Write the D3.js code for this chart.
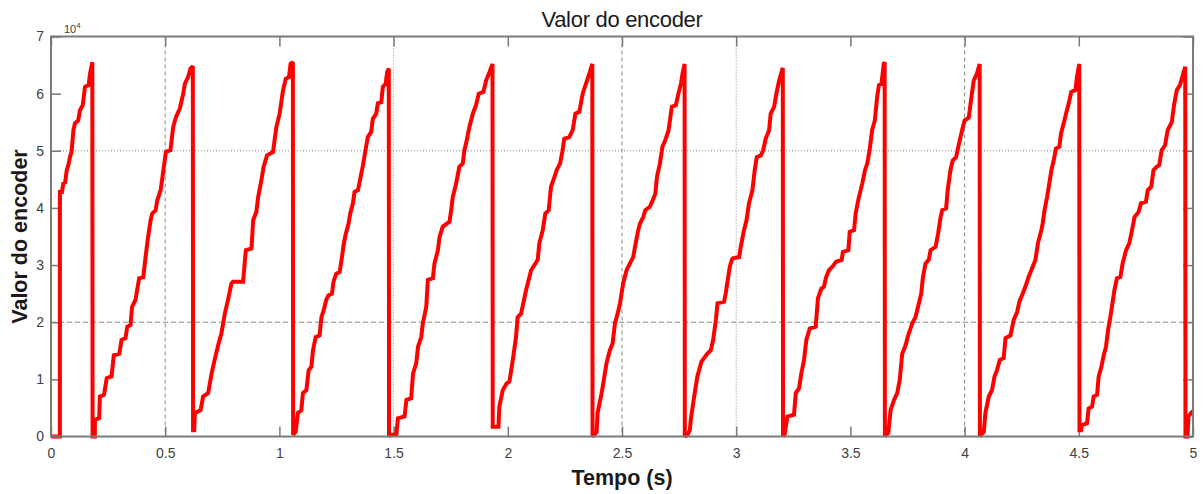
<!DOCTYPE html>
<html><head><meta charset="utf-8">
<script src="https://cdn.jsdelivr.net/npm/d3@7"></script>
<style>body{margin:0;background:#fff;} text{font-family:"Liberation Sans", Arial, sans-serif;}</style>
</head><body>
<svg id="chart" width="1203" height="494"></svg>
<script>
// ---- data (tempo in s, valor in encoder counts) ----
const tempo = [
 0,0.039,0.039,0.048,0.054,0.062,0.069,0.076,0.083,0.090,0.098,0.105,0.119,0.127,0.139,0.149,0.165,0.171,0.181,0.182,
 0.192,0.192,0.211,0.214,0.232,0.244,0.265,0.275,0.299,0.309,0.326,0.334,0.348,0.355,0.370,0.377,0.386,0.404,0.414,0.425,0.436,0.443,0.458,0.465,0.480,0.488,0.503,0.523,0.535,0.547,0.564,0.579,0.586,0.600,0.611,0.621,0.622,
 0.627,0.630,0.655,0.666,0.688,0.703,0.713,0.732,0.746,0.761,0.775,0.790,0.797,0.841,0.848,0.853,0.878,0.885,0.899,0.907,0.921,0.931,0.946,0.972,0.987,1.001,1.016,1.028,1.042,1.049,1.059,1.060,
 1.071,1.081,1.096,1.103,1.118,1.128,1.140,1.147,1.159,1.176,1.184,1.194,1.205,1.215,1.230,1.237,1.249,1.264,1.274,1.281,1.289,1.303,1.310,1.322,1.329,1.344,1.354,1.366,1.377,1.387,1.402,1.409,1.424,1.431,1.446,1.453,1.465,1.472,1.479,1.480,
 1.490,1.512,1.519,1.548,1.556,1.577,1.585,1.599,1.607,1.621,1.628,1.643,1.650,1.672,1.679,1.694,1.701,1.715,1.745,1.752,1.759,1.774,1.788,1.803,1.810,1.820,1.832,1.847,1.861,1.873,1.893,1.905,1.920,1.933,1.934,
 1.959,1.963,1.978,1.995,2.007,2.022,2.036,2.043,2.058,2.080,2.102,2.131,2.138,2.153,2.164,2.179,2.189,2.204,2.214,2.229,2.240,2.247,2.269,2.284,2.296,2.313,2.328,2.342,2.357,2.370,2.371,
 2.379,2.389,2.393,2.408,2.418,2.432,2.447,2.459,2.469,2.481,2.491,2.505,2.520,2.535,2.549,2.557,2.571,2.579,2.593,2.602,2.622,2.634,2.646,2.653,2.666,2.677,2.689,2.704,2.718,2.736,2.747,2.758,2.765,2.774,2.775,
 2.787,2.797,2.801,2.816,2.830,2.848,2.874,2.889,2.899,2.911,2.918,2.947,2.954,2.965,2.972,2.981,2.986,3.013,3.020,3.034,3.045,3.056,3.071,3.081,3.090,3.108,3.118,3.129,3.144,3.151,3.166,3.176,3.188,3.204,3.205,
 3.212,3.224,3.253,3.261,3.275,3.285,3.297,3.307,3.322,3.348,3.358,3.373,3.384,3.394,3.406,3.421,3.438,3.462,3.467,3.491,3.497,3.516,3.523,3.535,3.552,3.564,3.574,3.584,3.595,3.607,3.617,3.625,3.636,3.646,3.650,3.651,
 3.657,3.666,3.676,3.691,3.705,3.716,3.727,3.742,3.753,3.771,3.785,3.800,3.810,3.817,3.829,3.843,3.851,3.873,3.884,3.895,3.902,3.919,3.926,3.938,3.948,3.963,3.974,3.989,4.000,4.018,4.030,4.040,4.054,4.066,4.067,
 4.072,4.084,4.091,4.106,4.120,4.131,4.142,4.154,4.171,4.179,4.201,4.215,4.230,4.240,4.254,4.266,4.280,4.310,4.321,4.336,4.342,4.350,4.361,4.371,4.380,4.390,4.400,4.415,4.422,4.434,4.444,4.456,4.467,4.485,4.492,4.502,4.503,
 4.510,4.514,4.536,4.543,4.558,4.565,4.580,4.587,4.599,4.609,4.619,4.628,4.638,4.645,4.656,4.667,4.682,4.692,4.707,4.721,4.733,4.744,4.762,4.772,4.794,4.802,4.817,4.827,4.841,4.852,4.863,4.878,4.889,4.907,4.917,4.929,4.943,4.953,4.966,4.967,
 4.976,4.980,4.995,5.0
];
const valor = [
 0,0,42800,42800,44300,44500,46600,47500,48900,49800,53600,54800,55300,57100,58000,61200,61500,63500,65500,0,
 0,2900,3200,7000,7300,10200,10500,14200,14500,16900,17200,19200,19500,22700,23900,25600,27700,27900,31400,34900,37800,39000,39600,41300,43100,45400,49800,50100,54200,55900,57400,60000,61700,62900,64400,64800,1100,
 1100,4100,4600,7000,7600,11000,12800,16000,18000,21500,23900,26800,27100,27100,30300,32600,32900,37800,39300,41900,44800,47200,49200,49800,54200,56500,60600,62600,62900,65200,65500,300,
 800,4100,4600,7600,8100,11600,12200,15100,17400,17700,20900,22100,23900,24700,25000,27100,28500,28800,31400,33500,35200,37300,39000,40800,42800,43100,45100,47500,50100,52400,53300,55600,56500,58300,58500,61200,61700,63800,64400,0,
 300,300,3200,3500,6400,6700,11000,12800,15700,17400,19800,22700,27400,27700,30300,32600,34900,36700,37600,39600,41900,44300,47200,47800,50100,51800,54200,56500,58000,60000,60300,62300,63800,65200,1700,
 1700,5200,8100,9300,9600,13400,17400,20900,21500,25600,29100,30900,33800,36100,39000,39600,43700,45400,46600,47800,50100,52100,52400,53600,56500,56800,60000,61700,63500,65200,0,
 300,800,4100,7000,9300,12800,15100,16300,19800,21500,23300,26800,29100,30300,31400,33200,36100,37300,38400,39600,40200,41300,42500,45400,47800,50700,51800,53600,57700,58000,60000,61700,63500,65200,0,
 300,1100,2900,7000,10500,13100,14500,15100,16900,20400,23300,23600,25000,27900,29700,30900,31200,31400,33200,36100,37800,40800,43100,46600,48900,49200,50100,52100,53600,56500,57700,60000,62300,64500,0,
 300,3500,3800,7600,8400,11000,13400,16900,18900,19200,24200,25900,26200,27900,29100,29700,30600,30900,32300,32600,35800,36100,39000,41500,44300,46600,47800,50100,53600,55300,59400,61500,61700,65200,65500,0,
 300,600,4600,6400,7600,9900,14500,16000,17700,19800,20900,23300,25000,27700,30300,30900,32600,33200,35500,38400,39600,39900,43100,46600,48300,48900,51000,53600,55300,55800,59400,62300,63500,65200,0,
 300,800,4100,7000,8100,10500,11600,13400,13700,17200,17700,20400,21800,23600,25000,26200,27900,30900,33800,36100,37300,39600,41900,44300,46600,48300,50400,50700,53000,54800,56500,58300,60300,60600,62900,65200,1100,
 1100,2000,2300,4900,5200,7000,7300,10500,12200,14200,15700,18600,20900,22700,25600,27700,27900,30300,32600,33800,36100,38400,39300,40800,41100,43100,43700,46600,47200,47500,50100,51000,53600,55000,58000,60600,61500,62900,64700,0,
 0,3500,4300,4300
];
const xTicks = [0,0.5,1,1.5,2,2.5,3,3.5,4,4.5,5];
const xTickLabels = ["0","0.5","1","1.5","2","2.5","3","3.5","4","4.5","5"];
const yTicks = [0,10000,20000,30000,40000,50000,60000,70000];
const yTickLabels = ["0","1","2","3","4","5","6","7"];
const xGridDashed = [0.5,2.5,4];
const xGridDotted = [1.5,3];
const yGridDashed = [20000];
const yGridDotted = [50000];
const titleText = "Valor do encoder";
const yLabelText = "Valor do encoder";
const xLabelText = "Tempo (s)";

// ---- layout ----
const W = 1203, H = 494;
const m = {left:51, right:10, top:36.5, bottom:57.5};
const iw = W - m.left - m.right, ih = H - m.top - m.bottom;
const svg = d3.select("#chart");
const g = svg.append("g").attr("transform", `translate(${m.left},${m.top})`);
const x = d3.scaleLinear().domain([0,5]).range([0,iw]);
const y = d3.scaleLinear().domain([0,70000]).range([ih,0]);
const gridColor = "#8a8a8a", axisColor = "#7a7a7a", textColor = "#404040";

// grid
g.selectAll(".gxd").data(xGridDashed).join("line")
  .attr("x1",d=>x(d)).attr("x2",d=>x(d)).attr("y1",0).attr("y2",ih)
  .attr("stroke",gridColor).attr("stroke-width",1).attr("stroke-dasharray","4,3");
g.selectAll(".gxo").data(xGridDotted).join("line")
  .attr("x1",d=>x(d)).attr("x2",d=>x(d)).attr("y1",0).attr("y2",ih)
  .attr("stroke",gridColor).attr("stroke-width",1).attr("stroke-dasharray","1,2");
g.selectAll(".gyd").data(yGridDashed).join("line")
  .attr("x1",0).attr("x2",iw).attr("y1",d=>y(d)).attr("y2",d=>y(d))
  .attr("stroke",gridColor).attr("stroke-width",1).attr("stroke-dasharray","5,3");
g.selectAll(".gyo").data(yGridDotted).join("line")
  .attr("x1",0).attr("x2",iw).attr("y1",d=>y(d)).attr("y2",d=>y(d))
  .attr("stroke",gridColor).attr("stroke-width",1).attr("stroke-dasharray","1,2");

// axes (ticks inward on all four sides)
const tickLen = 10;
const xAxisB = d3.axisBottom(x).tickValues(xTicks).tickFormat((d,i)=>xTickLabels[i]).tickSizeInner(-tickLen).tickSizeOuter(0).tickPadding(11.5);
const xAxisT = d3.axisTop(x).tickValues(xTicks).tickFormat("").tickSizeInner(-tickLen).tickSizeOuter(0);
const yAxisL = d3.axisLeft(y).tickValues(yTicks).tickFormat((d,i)=>yTickLabels[i]).tickSizeInner(-tickLen).tickSizeOuter(0).tickPadding(7);
const yAxisR = d3.axisRight(y).tickValues(yTicks).tickFormat("").tickSizeInner(-tickLen).tickSizeOuter(0);
function styleAxis(sel){
  sel.selectAll("path").remove();
  sel.selectAll(".tick line").attr("stroke",axisColor).attr("stroke-width",1.5);
  sel.selectAll(".tick text").attr("fill",textColor).style("font-size","14px").style("font-family","'Liberation Sans', Arial, sans-serif");
}
g.append("g").attr("transform",`translate(0,${ih})`).call(xAxisB).call(styleAxis);
g.append("g").call(xAxisT).call(styleAxis);
g.append("g").call(yAxisL).call(styleAxis);
g.append("g").attr("transform",`translate(${iw},0)`).call(yAxisR).call(styleAxis);

// data line
const pts = tempo.map((t,i)=>[t, valor[i]]);
const line = d3.line().x(d=>x(d[0])).y(d=>y(d[1])).curve(d3.curveLinear);
g.append("path").datum(pts).attr("d",line)
  .attr("fill","none").attr("stroke","#ff0000").attr("stroke-width",4)
  .attr("stroke-linejoin","miter").attr("stroke-miterlimit",2).attr("stroke-linecap","butt");

// frame
g.append("rect").attr("x",0).attr("y",0).attr("width",iw).attr("height",ih)
  .attr("fill","none").attr("stroke",axisColor).attr("stroke-width",2);

// exponent label
const ex = svg.append("text").attr("x",m.left+13).attr("y",m.top-4).attr("fill",textColor).style("font-size","11px");
ex.append("tspan").text("10");
ex.append("tspan").attr("dy",-5).style("font-size","8px").text("4");

// title & labels
svg.append("text").attr("x",m.left+iw/2).attr("y",27).attr("text-anchor","middle")
  .attr("fill","#1a1a1a").style("font-size","22px").style("letter-spacing","-0.3px").text(titleText);
svg.append("text").attr("transform",`translate(27,${m.top+ih/2}) rotate(-90)`).attr("text-anchor","middle")
  .attr("fill","#1a1a1a").style("font-size","21.5px").style("font-weight","bold").text(yLabelText);
svg.append("text").attr("x",m.left+iw/2).attr("y",485).attr("text-anchor","middle")
  .attr("fill","#1a1a1a").style("font-size","21.5px").style("font-weight","bold").text(xLabelText);
</script>
</body></html>
